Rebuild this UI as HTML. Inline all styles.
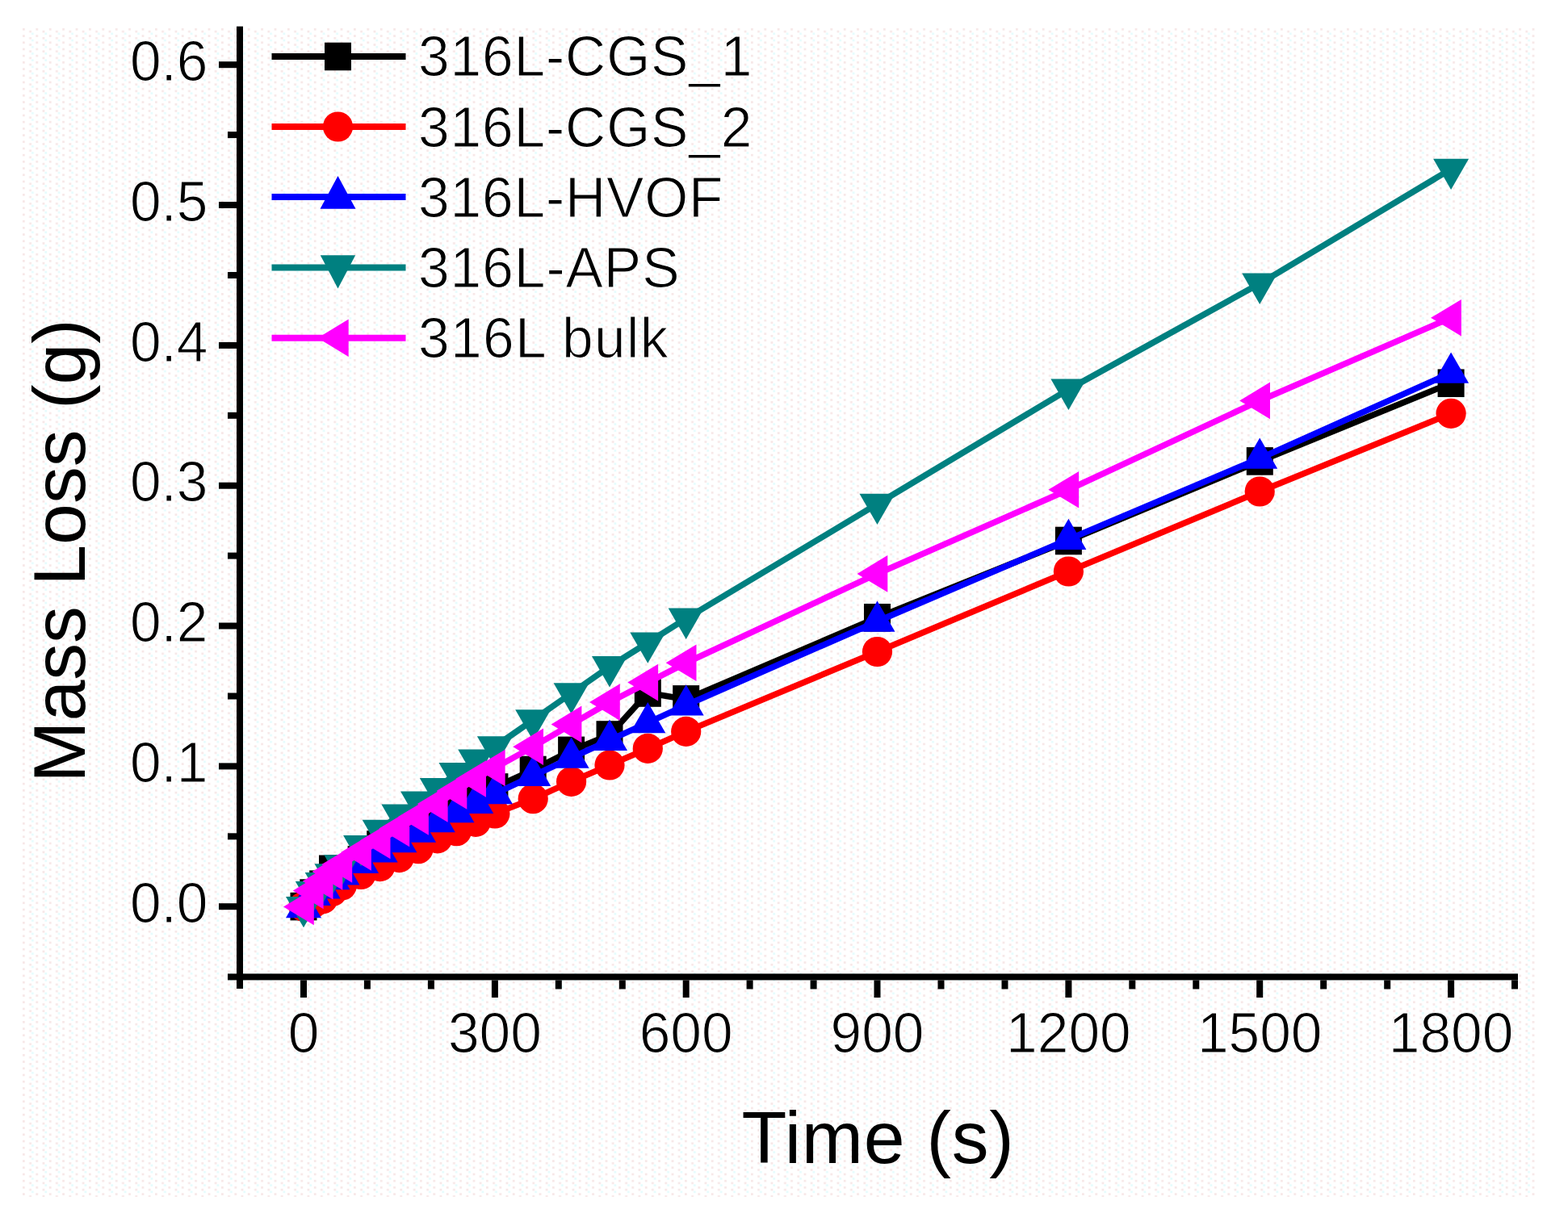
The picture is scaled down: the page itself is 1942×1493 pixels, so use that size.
<!DOCTYPE html>
<html><head><meta charset="utf-8"><title>Mass Loss vs Time</title>
<style>html,body{margin:0;padding:0;background:#fff;}body{width:1942px;height:1493px;overflow:hidden;}svg{display:block;}text{font-family:"Liberation Sans",Arial,sans-serif;fill:#000;}.thin,.thin text{stroke:#fff;stroke-width:1.1px;}</style>
</head><body>
<svg width="1942" height="1493" viewBox="0 0 1942 1493">
<rect x="0" y="0" width="1942" height="1493" fill="#ffffff"/>
<defs><pattern id="bgp" x="28" y="35" width="16.4" height="8.2" patternUnits="userSpaceOnUse"><rect x="0" y="0" width="2.74" height="2.74" fill="#f7e8e8"/><rect x="8.2" y="2.7" width="2.74" height="2.74" fill="#f7e8e8"/><rect x="11" y="5.5" width="2.74" height="2.74" fill="#e6fcfd"/></pattern></defs>
<rect x="28" y="35" width="1874.4" height="1448" fill="url(#bgp)"/>
<polyline points="376,1123.1 387.8,1106.6 399.7,1095.7 411.5,1076.8 423.4,1077 447.1,1065.5 470.7,1046.5 494.4,1037 518.1,1024 541.8,1011.1 565.5,994.8 589.2,981 612.9,975.5 660.2,954 707.6,929.9 755,910.5 802.3,858.5 849.7,866.4 1086.5,765.3 1323.4,670 1560.2,571.4 1797.1,474.7" fill="none" stroke="#000000" stroke-width="7.6" stroke-linejoin="round" stroke-linecap="butt"/>
<rect x="359.5" y="1105.8" width="33" height="34.6" fill="#000000"/>
<rect x="371.3" y="1089.3" width="33" height="34.6" fill="#000000"/>
<rect x="383.2" y="1078.4" width="33" height="34.6" fill="#000000"/>
<rect x="395" y="1059.5" width="33" height="34.6" fill="#000000"/>
<rect x="406.9" y="1059.7" width="33" height="34.6" fill="#000000"/>
<rect x="430.6" y="1048.2" width="33" height="34.6" fill="#000000"/>
<rect x="454.2" y="1029.2" width="33" height="34.6" fill="#000000"/>
<rect x="477.9" y="1019.7" width="33" height="34.6" fill="#000000"/>
<rect x="501.6" y="1006.7" width="33" height="34.6" fill="#000000"/>
<rect x="525.3" y="993.8" width="33" height="34.6" fill="#000000"/>
<rect x="549" y="977.5" width="33" height="34.6" fill="#000000"/>
<rect x="572.7" y="963.7" width="33" height="34.6" fill="#000000"/>
<rect x="596.4" y="958.2" width="33" height="34.6" fill="#000000"/>
<rect x="643.7" y="936.7" width="33" height="34.6" fill="#000000"/>
<rect x="691.1" y="912.6" width="33" height="34.6" fill="#000000"/>
<rect x="738.5" y="893.2" width="33" height="34.6" fill="#000000"/>
<rect x="785.8" y="841.2" width="33" height="34.6" fill="#000000"/>
<rect x="833.2" y="849.1" width="33" height="34.6" fill="#000000"/>
<rect x="1070" y="748" width="33" height="34.6" fill="#000000"/>
<rect x="1306.9" y="652.7" width="33" height="34.6" fill="#000000"/>
<rect x="1543.8" y="554.1" width="33" height="34.6" fill="#000000"/>
<rect x="1780.6" y="457.4" width="33" height="34.6" fill="#000000"/>
<polyline points="376,1123.2 387.8,1119 399.7,1113.8 411.5,1104.5 423.4,1097 447.1,1083.5 470.7,1073.6 494.4,1062.6 518.1,1051.7 541.8,1038.9 565.5,1029.7 589.2,1018.4 612.9,1008 660.2,989.7 707.6,968.4 755,948 802.3,927.4 849.7,906.4 1086.5,807.5 1323.4,708 1560.2,609 1797.1,512.3" fill="none" stroke="#ff0000" stroke-width="7.6" stroke-linejoin="round" stroke-linecap="butt"/>
<circle cx="376" cy="1123.2" r="18.6" fill="#ff0000"/>
<circle cx="387.8" cy="1119" r="18.6" fill="#ff0000"/>
<circle cx="399.7" cy="1113.8" r="18.6" fill="#ff0000"/>
<circle cx="411.5" cy="1104.5" r="18.6" fill="#ff0000"/>
<circle cx="423.4" cy="1097" r="18.6" fill="#ff0000"/>
<circle cx="447.1" cy="1083.5" r="18.6" fill="#ff0000"/>
<circle cx="470.7" cy="1073.6" r="18.6" fill="#ff0000"/>
<circle cx="494.4" cy="1062.6" r="18.6" fill="#ff0000"/>
<circle cx="518.1" cy="1051.7" r="18.6" fill="#ff0000"/>
<circle cx="541.8" cy="1038.9" r="18.6" fill="#ff0000"/>
<circle cx="565.5" cy="1029.7" r="18.6" fill="#ff0000"/>
<circle cx="589.2" cy="1018.4" r="18.6" fill="#ff0000"/>
<circle cx="612.9" cy="1008" r="18.6" fill="#ff0000"/>
<circle cx="660.2" cy="989.7" r="18.6" fill="#ff0000"/>
<circle cx="707.6" cy="968.4" r="18.6" fill="#ff0000"/>
<circle cx="755" cy="948" r="18.6" fill="#ff0000"/>
<circle cx="802.3" cy="927.4" r="18.6" fill="#ff0000"/>
<circle cx="849.7" cy="906.4" r="18.6" fill="#ff0000"/>
<circle cx="1086.5" cy="807.5" r="18.6" fill="#ff0000"/>
<circle cx="1323.4" cy="708" r="18.6" fill="#ff0000"/>
<circle cx="1560.2" cy="609" r="18.6" fill="#ff0000"/>
<circle cx="1797.1" cy="512.3" r="18.6" fill="#ff0000"/>
<polyline points="376,1124.5 387.8,1109.1 399.7,1100.7 411.5,1089.4 423.4,1083.8 447.1,1069.2 470.7,1055.7 494.4,1043.5 518.1,1031 541.8,1018.4 565.5,1006.5 589.2,995.1 612.9,983.4 660.2,961.2 707.6,939 755,917.1 802.3,895.4 849.7,873.7 1086.5,769.9 1323.4,668.3 1560.2,567.9 1797.1,461.9" fill="none" stroke="#0000ff" stroke-width="7.6" stroke-linejoin="round" stroke-linecap="butt"/>
<polygon points="376,1099 398,1137.3 354,1137.3" fill="#0000ff"/>
<polygon points="387.8,1083.6 409.8,1121.9 365.8,1121.9" fill="#0000ff"/>
<polygon points="399.7,1075.2 421.7,1113.5 377.7,1113.5" fill="#0000ff"/>
<polygon points="411.5,1063.9 433.5,1102.2 389.5,1102.2" fill="#0000ff"/>
<polygon points="423.4,1058.3 445.4,1096.6 401.4,1096.6" fill="#0000ff"/>
<polygon points="447.1,1043.7 469.1,1082 425.1,1082" fill="#0000ff"/>
<polygon points="470.7,1030.2 492.7,1068.5 448.7,1068.5" fill="#0000ff"/>
<polygon points="494.4,1018 516.4,1056.3 472.4,1056.3" fill="#0000ff"/>
<polygon points="518.1,1005.5 540.1,1043.8 496.1,1043.8" fill="#0000ff"/>
<polygon points="541.8,992.9 563.8,1031.2 519.8,1031.2" fill="#0000ff"/>
<polygon points="565.5,981 587.5,1019.3 543.5,1019.3" fill="#0000ff"/>
<polygon points="589.2,969.6 611.2,1007.9 567.2,1007.9" fill="#0000ff"/>
<polygon points="612.9,957.9 634.9,996.2 590.9,996.2" fill="#0000ff"/>
<polygon points="660.2,935.7 682.2,974 638.2,974" fill="#0000ff"/>
<polygon points="707.6,913.5 729.6,951.8 685.6,951.8" fill="#0000ff"/>
<polygon points="755,891.6 777,929.9 733,929.9" fill="#0000ff"/>
<polygon points="802.3,869.9 824.3,908.2 780.3,908.2" fill="#0000ff"/>
<polygon points="849.7,848.2 871.7,886.5 827.7,886.5" fill="#0000ff"/>
<polygon points="1086.5,744.4 1108.5,782.7 1064.5,782.7" fill="#0000ff"/>
<polygon points="1323.4,642.8 1345.4,681.1 1301.4,681.1" fill="#0000ff"/>
<polygon points="1560.2,542.4 1582.2,580.7 1538.2,580.7" fill="#0000ff"/>
<polygon points="1797.1,436.4 1819.1,474.7 1775.1,474.7" fill="#0000ff"/>
<polyline points="376,1123.7 387.8,1104.7 399.7,1093.8 411.5,1083 423.4,1072 447.1,1047.8 470.7,1028.6 494.4,1009.3 518.1,993.3 541.8,976.7 565.5,957.8 589.2,941.3 612.9,925 660.2,892.1 707.6,859 755,825.9 802.3,796.3 849.7,766.4 1086.5,624.6 1323.4,482.4 1560.2,351.4 1797.1,209.5" fill="none" stroke="#008080" stroke-width="7.6" stroke-linejoin="round" stroke-linecap="butt"/>
<polygon points="354,1110.9 398,1110.9 376,1149.2" fill="#008080"/>
<polygon points="365.8,1091.9 409.8,1091.9 387.8,1130.2" fill="#008080"/>
<polygon points="377.7,1081 421.7,1081 399.7,1119.3" fill="#008080"/>
<polygon points="389.5,1070.2 433.5,1070.2 411.5,1108.5" fill="#008080"/>
<polygon points="401.4,1059.2 445.4,1059.2 423.4,1097.5" fill="#008080"/>
<polygon points="425.1,1035 469.1,1035 447.1,1073.3" fill="#008080"/>
<polygon points="448.7,1015.8 492.7,1015.8 470.7,1054.1" fill="#008080"/>
<polygon points="472.4,996.5 516.4,996.5 494.4,1034.8" fill="#008080"/>
<polygon points="496.1,980.5 540.1,980.5 518.1,1018.8" fill="#008080"/>
<polygon points="519.8,963.9 563.8,963.9 541.8,1002.2" fill="#008080"/>
<polygon points="543.5,945 587.5,945 565.5,983.3" fill="#008080"/>
<polygon points="567.2,928.5 611.2,928.5 589.2,966.8" fill="#008080"/>
<polygon points="590.9,912.2 634.9,912.2 612.9,950.5" fill="#008080"/>
<polygon points="638.2,879.3 682.2,879.3 660.2,917.6" fill="#008080"/>
<polygon points="685.6,846.2 729.6,846.2 707.6,884.5" fill="#008080"/>
<polygon points="733,813.1 777,813.1 755,851.4" fill="#008080"/>
<polygon points="780.3,783.5 824.3,783.5 802.3,821.8" fill="#008080"/>
<polygon points="827.7,753.6 871.7,753.6 849.7,791.9" fill="#008080"/>
<polygon points="1064.5,611.8 1108.5,611.8 1086.5,650.1" fill="#008080"/>
<polygon points="1301.4,469.6 1345.4,469.6 1323.4,507.9" fill="#008080"/>
<polygon points="1538.2,338.6 1582.2,338.6 1560.2,376.9" fill="#008080"/>
<polygon points="1775.1,196.7 1819.1,196.7 1797.1,235" fill="#008080"/>
<polyline points="376,1123.5 387.8,1103.4 399.7,1091.7 411.5,1080 423.4,1071 447.1,1056 470.7,1041.5 494.4,1026.5 518.1,1012 541.8,996 565.5,980 589.2,965 612.9,951.5 660.2,925.3 707.6,897.4 755,870.1 802.3,845.6 849.7,821.3 1086.5,710.9 1323.4,606.8 1560.2,496.4 1797.1,393.7" fill="none" stroke="#ff00ff" stroke-width="7.6" stroke-linejoin="round" stroke-linecap="butt"/>
<polygon points="351,1123.5 388.8,1100.7 388.8,1146.3" fill="#ff00ff"/>
<polygon points="362.8,1103.4 400.6,1080.6 400.6,1126.2" fill="#ff00ff"/>
<polygon points="374.7,1091.7 412.5,1068.9 412.5,1114.5" fill="#ff00ff"/>
<polygon points="386.5,1080 424.3,1057.2 424.3,1102.8" fill="#ff00ff"/>
<polygon points="398.4,1071 436.2,1048.2 436.2,1093.8" fill="#ff00ff"/>
<polygon points="422.1,1056 459.9,1033.2 459.9,1078.8" fill="#ff00ff"/>
<polygon points="445.7,1041.5 483.5,1018.7 483.5,1064.3" fill="#ff00ff"/>
<polygon points="469.4,1026.5 507.2,1003.7 507.2,1049.3" fill="#ff00ff"/>
<polygon points="493.1,1012 530.9,989.2 530.9,1034.8" fill="#ff00ff"/>
<polygon points="516.8,996 554.6,973.2 554.6,1018.8" fill="#ff00ff"/>
<polygon points="540.5,980 578.3,957.2 578.3,1002.8" fill="#ff00ff"/>
<polygon points="564.2,965 602,942.2 602,987.8" fill="#ff00ff"/>
<polygon points="587.9,951.5 625.6,928.7 625.6,974.3" fill="#ff00ff"/>
<polygon points="635.2,925.3 673,902.5 673,948.1" fill="#ff00ff"/>
<polygon points="682.6,897.4 720.4,874.6 720.4,920.2" fill="#ff00ff"/>
<polygon points="730,870.1 767.8,847.3 767.8,892.9" fill="#ff00ff"/>
<polygon points="777.3,845.6 815.1,822.8 815.1,868.4" fill="#ff00ff"/>
<polygon points="824.7,821.3 862.5,798.5 862.5,844.1" fill="#ff00ff"/>
<polygon points="1061.5,710.9 1099.3,688.1 1099.3,733.7" fill="#ff00ff"/>
<polygon points="1298.4,606.8 1336.2,584 1336.2,629.6" fill="#ff00ff"/>
<polygon points="1535.2,496.4 1573,473.6 1573,519.2" fill="#ff00ff"/>
<polygon points="1772.1,393.7 1809.9,370.9 1809.9,416.5" fill="#ff00ff"/>
<g fill="#000"><rect x="293" y="32.7" width="8" height="1192.3"/><rect x="282" y="1206.4" width="1598" height="8"/><rect x="271" y="1119.2" width="22" height="8"/><rect x="271" y="945.4" width="22" height="8"/><rect x="271" y="771.5" width="22" height="8"/><rect x="271" y="597.7" width="22" height="8"/><rect x="271" y="423.9" width="22" height="8"/><rect x="271" y="250" width="22" height="8"/><rect x="271" y="76.2" width="22" height="8"/><rect x="282" y="1032.3" width="11" height="8"/><rect x="282" y="858.5" width="11" height="8"/><rect x="282" y="684.6" width="11" height="8"/><rect x="282" y="510.8" width="11" height="8"/><rect x="282" y="337" width="11" height="8"/><rect x="282" y="163.1" width="11" height="8"/><rect x="372" y="1214.4" width="8" height="21.6"/><rect x="608.9" y="1214.4" width="8" height="21.6"/><rect x="845.7" y="1214.4" width="8" height="21.6"/><rect x="1082.5" y="1214.4" width="8" height="21.6"/><rect x="1319.4" y="1214.4" width="8" height="21.6"/><rect x="1556.2" y="1214.4" width="8" height="21.6"/><rect x="1793.1" y="1214.4" width="8" height="21.6"/><rect x="450.9" y="1214.4" width="8" height="11.1"/><rect x="529.9" y="1214.4" width="8" height="11.1"/><rect x="687.8" y="1214.4" width="8" height="11.1"/><rect x="766.8" y="1214.4" width="8" height="11.1"/><rect x="924.6" y="1214.4" width="8" height="11.1"/><rect x="1003.6" y="1214.4" width="8" height="11.1"/><rect x="1161.5" y="1214.4" width="8" height="11.1"/><rect x="1240.5" y="1214.4" width="8" height="11.1"/><rect x="1398.3" y="1214.4" width="8" height="11.1"/><rect x="1477.3" y="1214.4" width="8" height="11.1"/><rect x="1635.2" y="1214.4" width="8" height="11.1"/><rect x="1714.2" y="1214.4" width="8" height="11.1"/><rect x="1872" y="1214.4" width="8" height="11.1"/></g>
<g font-size="69.5" class="thin"><text x="257.5" y="1142.8" text-anchor="end">0.0</text><text x="257.5" y="969" text-anchor="end">0.1</text><text x="257.5" y="795.1" text-anchor="end">0.2</text><text x="257.5" y="621.3" text-anchor="end">0.3</text><text x="257.5" y="447.5" text-anchor="end">0.4</text><text x="257.5" y="273.6" text-anchor="end">0.5</text><text x="257.5" y="99.8" text-anchor="end">0.6</text><text x="376" y="1303.8" text-anchor="middle">0</text><text x="612.9" y="1303.8" text-anchor="middle">300</text><text x="849.7" y="1303.8" text-anchor="middle">600</text><text x="1086.5" y="1303.8" text-anchor="middle">900</text><text x="1323.4" y="1303.8" text-anchor="middle">1200</text><text x="1560.2" y="1303.8" text-anchor="middle">1500</text><text x="1797.1" y="1303.8" text-anchor="middle">1800</text></g>
<text x="918.4" y="1441" font-size="91.5" textLength="337.4" lengthAdjust="spacing">Time (s)</text>
<text transform="translate(104.6,969.8) rotate(-90)" x="0" y="0" font-size="91.5">Mass Loss (g)</text>
<line x1="336.5" y1="70" x2="502.5" y2="70" stroke="#000000" stroke-width="8"/>
<rect x="402" y="52.7" width="33" height="34.6" fill="#000000"/>
<text x="518" y="93.9" font-size="69.5" textLength="413.5" lengthAdjust="spacing" class="thin">316L-CGS_1</text>
<line x1="336.5" y1="157" x2="502.5" y2="157" stroke="#ff0000" stroke-width="8"/>
<circle cx="418.5" cy="157" r="18.6" fill="#ff0000"/>
<text x="518" y="181.7" font-size="69.5" textLength="413.5" lengthAdjust="spacing" class="thin">316L-CGS_2</text>
<line x1="336.5" y1="244.1" x2="502.5" y2="244.1" stroke="#0000ff" stroke-width="8"/>
<polygon points="418.5,217.9 440.5,258.8 396.5,258.8" fill="#0000ff"/>
<text x="518" y="268.8" font-size="69.5" textLength="377.5" lengthAdjust="spacing" class="thin">316L-HVOF</text>
<line x1="336.5" y1="331.5" x2="502.5" y2="331.5" stroke="#008080" stroke-width="8"/>
<polygon points="396.8,316.3 440.2,316.3 418.5,357.5" fill="#008080"/>
<text x="518" y="356" font-size="69.5" textLength="323.5" lengthAdjust="spacing" class="thin">316L-APS</text>
<line x1="336.5" y1="418.8" x2="502.5" y2="418.8" stroke="#ff00ff" stroke-width="8"/>
<polygon points="393.5,418.8 431.7,395.5 431.7,442.1" fill="#ff00ff"/>
<text x="518" y="442.8" font-size="69.5" textLength="309.5" lengthAdjust="spacing" class="thin">316L bulk</text>
</svg></body></html>
